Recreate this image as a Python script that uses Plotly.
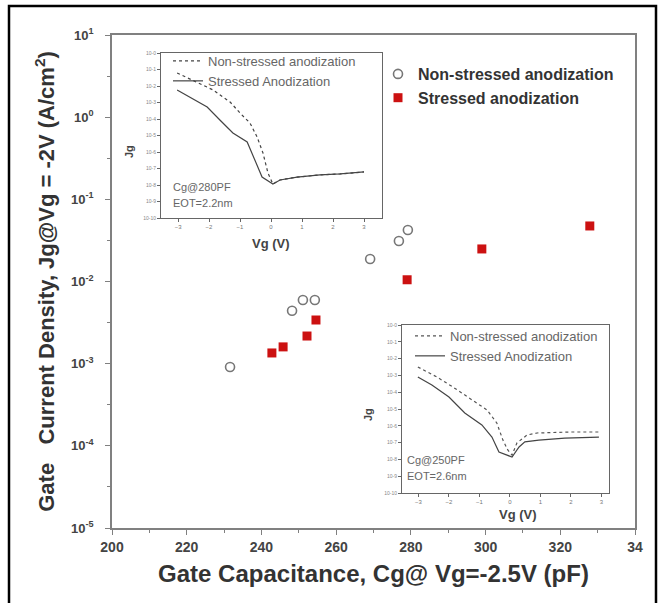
import plotly.graph_objects as go

# ---------------- data ----------------
cg_non = [231.6, 248.2, 251.1, 254.3, 269.1, 276.8, 279.2]
jg_non = [9.1e-4, 4.4e-3, 5.96e-3, 5.96e-3, 1.88e-2, 3.11e-2, 4.24e-2]

cg_str = [242.8, 245.8, 252.2, 254.6, 279.0, 299.0, 327.9]
jg_str = [1.35e-3, 1.6e-3, 2.17e-3, 3.4e-3, 1.05e-2, 2.49e-2, 4.74e-2]

y_tickvals = [1e-5, 1e-4, 1e-3, 1e-2, 1e-1, 1e0, 1e1]
y_ticktext = ["10<sup>-5</sup>", "10<sup>-4</sup>", "10<sup>-3</sup>", "10<sup>-2</sup>",
              "10<sup>-1</sup>", "10<sup>0</sup>", "10<sup>1</sup>"]
y_minor = [3.16e-5, 3.16e-4, 3.16e-3, 3.16e-2, 3.16e-1, 3.16e0]
x_tickvals = [200, 220, 240, 260, 280, 300, 320, 340]
x_ticktext = ["200", "220", "240", "260", "280", "300", "320", "34"]

# inset 1 : Cg@280pF, EOT=2.2nm
in1_vg_str = [-3.03, -2.06, -1.65, -1.23, -0.77, -0.52, -0.29, 0.06, 0.29, 0.84, 1.58, 2.23, 3.0]
in1_jg_str = [5.75e-3, 5.37e-4, 8.71e-5, 1.41e-5, 4.07e-6, 3.31e-7, 3.02e-8, 1.15e-8,
              2.0e-8, 3.02e-8, 4.07e-8, 4.68e-8, 6.17e-8]
in1_vg_non = [-3.03, -2.39, -1.87, -1.32, -1.0, -0.68, -0.45, -0.26, -0.10, 0.06,
              0.29, 0.84, 1.58, 2.23, 3.0]
in1_jg_non = [6.17e-2, 1.74e-2, 5.75e-3, 1.07e-3, 2.29e-4, 5.75e-5, 8.13e-6, 8.71e-7,
              5.37e-8, 1.15e-8, 2.0e-8, 3.02e-8, 4.07e-8, 4.68e-8, 6.17e-8]

# inset 2 : Cg@250pF, EOT=2.6nm
in2_vg_str = [-3.02, -2.56, -2.0, -1.48, -0.92, -0.59, -0.36, 0.07, 0.30, 0.49, 0.95, 1.80, 2.92]
in2_jg_str = [7.94e-4, 2.69e-4, 5.13e-5, 5.75e-6, 1.12e-6, 2.14e-7, 2.75e-8, 1.38e-8,
              5.5e-8, 1.1e-7, 1.41e-7, 1.86e-7, 2.14e-7]
in2_vg_non = [-3.02, -2.39, -1.87, -1.31, -0.75, -0.43, -0.23, -0.07, 0.07, 0.23,
              0.56, 0.89, 1.97, 2.95]
in2_jg_non = [3.16e-3, 7.94e-4, 2.04e-4, 4.47e-5, 8.71e-6, 1.48e-6, 1.41e-7, 3.63e-8,
              1.82e-8, 9.55e-8, 2.82e-7, 3.72e-7, 4.27e-7, 4.27e-7]

inset_x_ticks = [-3, -2, -1, 0, 1, 2, 3]
inset_y_ticks = [1e-10, 1e-9, 1e-8, 1e-7, 1e-6, 1e-5, 1e-4, 1e-3, 1e-2, 1e-1, 1e0]
inset_y_text = ["10-10", "10-9", "10-8", "10-7", "10-6", "10-5", "10-4", "10-3", "10-2", "10-1", "10-0"]

# ---------------- layout helpers ----------------
W, H = 664, 603
L, R, T, B = 112, 635, 35, 528


def px(x):
    return (x - L) / (R - L)


def py(y):
    return (B - y) / (B - T)


FONT = "Liberation Sans, Arial, sans-serif"

fig = go.Figure()

# main scatter
fig.add_trace(go.Scatter(
    x=cg_non, y=jg_non, mode="markers", name="Non-stressed anodization",
    marker=dict(symbol="circle-open", size=9, color="#777777", line=dict(width=1.6)),
    legend="legend"))
fig.add_trace(go.Scatter(
    x=cg_str, y=jg_str, mode="markers", name="Stressed anodization",
    marker=dict(symbol="square", size=9, color="#cc1111"),
    legend="legend"))

# inset 1
fig.add_trace(go.Scatter(
    x=in1_vg_non, y=in1_jg_non, mode="lines", name="Non-stressed anodization",
    line=dict(color="#444444", width=1.2, dash="dot"), xaxis="x2", yaxis="y2", legend="legend2"))
fig.add_trace(go.Scatter(
    x=in1_vg_str, y=in1_jg_str, mode="lines", name="Stressed Anodization",
    line=dict(color="#444444", width=1.2), xaxis="x2", yaxis="y2", legend="legend2"))

# inset 2
fig.add_trace(go.Scatter(
    x=in2_vg_non, y=in2_jg_non, mode="lines", name="Non-stressed anodization",
    line=dict(color="#555555", width=1.2, dash="dot"), xaxis="x3", yaxis="y3", legend="legend3"))
fig.add_trace(go.Scatter(
    x=in2_vg_str, y=in2_jg_str, mode="lines", name="Stressed Anodization",
    line=dict(color="#444444", width=1.2), xaxis="x3", yaxis="y3", legend="legend3"))

axis_frame = dict(showline=True, linecolor="#808080", linewidth=1.5, mirror=True,
                  showgrid=False, zeroline=False)

inset_x = dict(showline=True, linecolor="#666666", linewidth=1, mirror=True, showgrid=False,
               zeroline=False, ticks="outside", ticklen=3, tickcolor="#666666",
               tickvals=inset_x_ticks, tickfont=dict(size=6, color="#777777", family=FONT))
inset_y = dict(showline=True, linecolor="#666666", linewidth=1, mirror=True, showgrid=False,
               zeroline=False, ticks="outside", ticklen=3, tickcolor="#666666", type="log",
               range=[-10, 0], tickvals=inset_y_ticks, ticktext=inset_y_text,
               tickfont=dict(size=5, color="#888888", family=FONT))

fig.update_layout(
    width=W, height=H,
    margin=dict(l=L, r=W - R, t=T, b=H - B),
    paper_bgcolor="white", plot_bgcolor="white",
    font=dict(family=FONT, color="#222222"),
    xaxis=dict(**axis_frame, range=[200, 340], tickvals=x_tickvals, ticktext=x_ticktext,
               ticks="outside", ticklen=5, tickcolor="#808080",
               minor=dict(tickvals=[210, 230, 250, 270, 290, 310, 330], ticks="outside",
                          ticklen=3, tickcolor="#808080"),
               tickfont=dict(size=14, color="#444444", family=FONT, weight="bold"),
               title=dict(text="Gate Capacitance, Cg@ Vg=-2.5V (pF)", standoff=12,
                          font=dict(size=24, color="#333333", family=FONT, weight="bold"))),
    yaxis=dict(**axis_frame, type="log", range=[-5, 1], tickvals=y_tickvals, ticktext=y_ticktext,
               ticks="outside", ticklen=5, tickcolor="#808080", ticklabelstandoff=9,
               minor=dict(tickvals=y_minor, ticks="outside", ticklen=3, tickcolor="#808080"),
               tickfont=dict(size=13, color="#444444", family=FONT, weight="bold"),
               title=dict(text="Gate\u00a0\u00a0 Current Density, Jg@Vg = -2V (A/cm<sup>2</sup>)",
                          standoff=10,
                          font=dict(size=22, color="#333333", family=FONT, weight="bold"))),
    xaxis2=dict(**inset_x, domain=[px(161), px(382)], range=[-3.55, 3.58], anchor="y2"),
    yaxis2=dict(**inset_y, domain=[py(218), py(53)], anchor="x2"),
    xaxis3=dict(**inset_x, domain=[px(402), px(609)], range=[-3.54, 3.25], anchor="y3"),
    yaxis3=dict(**inset_y, domain=[py(493), py(325)], anchor="x3"),
    legend=dict(x=px(378), y=py(57), xanchor="left", yanchor="top", bgcolor="rgba(0,0,0,0)",
                font=dict(size=16, color="#333333", family=FONT, weight="bold"),
                itemwidth=30, tracegroupgap=0),
    legend2=dict(x=px(168), y=py(46), xanchor="left", yanchor="top", bgcolor="rgba(0,0,0,0)",
                 font=dict(size=13, color="#666666", family=FONT), itemwidth=30),
    legend3=dict(x=px(410), y=py(321), xanchor="left", yanchor="top", bgcolor="rgba(0,0,0,0)",
                 font=dict(size=13, color="#666666", family=FONT), itemwidth=30),
    showlegend=True,
)

ann = [
    ("Cg@280PF", 171, 187, 11, "left", 0, False),
    ("EOT=2.2nm", 171, 203, 11, "left", 0, False),
    ("Cg@250PF", 405, 460, 11, "left", 0, False),
    ("EOT=2.6nm", 405, 476, 11, "left", 0, False),
    ("Jg", 129, 152, 11, "center", -90, True),
    ("Vg (V)", 271, 244, 13, "center", 0, True),
    ("Jg", 368, 415, 11, "center", -90, True),
    ("Vg (V)", 518, 514, 13, "center", 0, True),
]
for text, x, y, size, xa, ang, bold in ann:
    fig.add_annotation(text=text, x=px(x), y=py(y), xref="paper", yref="paper",
                       xanchor=xa, yanchor="middle", showarrow=False, textangle=ang,
                       font=dict(size=size, color="#444444" if bold else "#666666", family=FONT,
                                 weight="bold" if bold else "normal"))

# outer frame of the figure
fig.add_shape(type="rect", xref="paper", yref="paper",
              x0=px(9), x1=px(656), y0=py(640), y1=py(6),
              line=dict(color="black", width=2.5), fillcolor="rgba(0,0,0,0)")

fig.write_html("out.html")
